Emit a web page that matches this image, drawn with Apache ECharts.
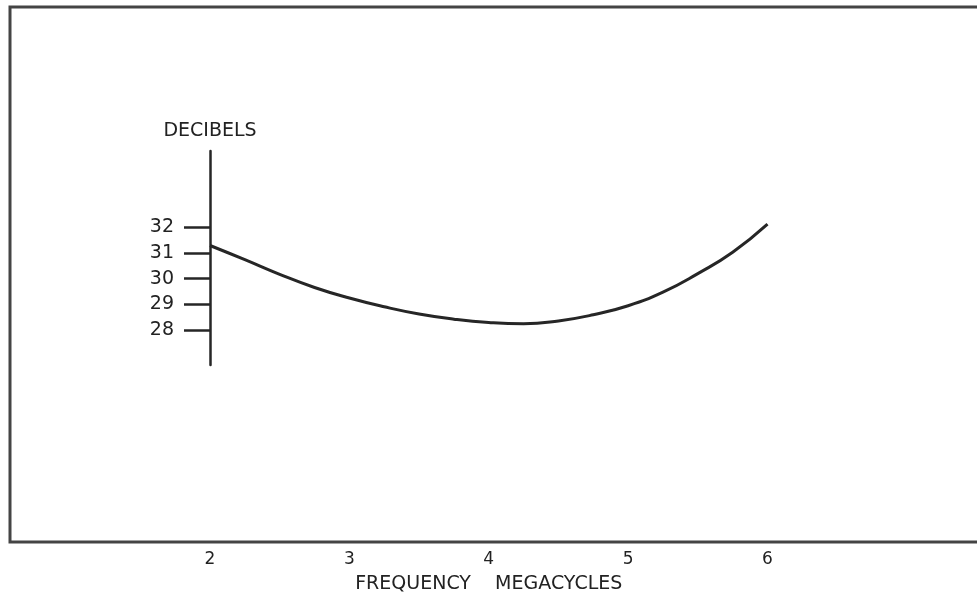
<!DOCTYPE html>
<html>
<head>
<meta charset="utf-8">
<title>Decibels vs frequency</title>
<script src="https://cdn.jsdelivr.net/npm/echarts@6/dist/echarts.min.js"></script>
<style>
  html, body { margin: 0; padding: 0; background: #fff; }
  #chart { width: 977px; height: 602px; }
</style>
</head>
<body>
<div id="chart"></div>
<script>
// 曲线读数 (频率 MHz / 分贝)
const freq = [2.0, 2.25, 2.5, 2.75, 3.0, 3.25, 3.5, 3.75, 4.0, 4.25, 4.5, 4.75, 5.0, 5.25, 5.5, 5.75, 6.0]
const decibels = [31.29, 30.74, 30.17, 29.66, 29.25, 28.91, 28.63, 28.43, 28.3, 28.25, 28.36, 28.6, 28.95, 29.48, 30.2, 31.03, 32.12]
// 纵轴刻度
const dbTicks = [28, 29, 30, 31, 32]

const ink = '#262626'
const textColor = '#222'
const fontFamily = 'DejaVu Sans'

let chart = echarts.init(document.getElementById('chart'))

let option = {
  backgroundColor: '#fff',
  animation: false,
  textStyle: { fontFamily: fontFamily },
  grid: { left: 210, right: 209.5, top: 151, bottom: 237 },
  // 外框 (上、左、下三边)
  graphic: [{
    type: 'polyline',
    shape: { points: [[977, 7], [10, 7], [10, 542], [977, 542]] },
    style: { stroke: '#444', lineWidth: 3, fill: null }
  }],
  xAxis: {
    type: 'value',
    min: 2,
    max: 6,
    interval: 1,
    offset: 180,
    axisLine: { show: false },
    axisTick: { show: false },
    splitLine: { show: false },
    axisLabel: { color: textColor, fontSize: 17, margin: 6 },
    name: 'FREQUENCY    MEGACYCLES',
    nameLocation: 'middle',
    nameGap: 30,
    nameTextStyle: { color: textColor, fontSize: 19 }
  },
  yAxis: {
    type: 'value',
    min: 26.65,
    max: 34.96,
    axisLine: { show: true, lineStyle: { color: ink, width: 2.5 } },
    axisTick: {
      show: true,
      length: 26,
      customValues: dbTicks,
      lineStyle: { color: ink, width: 2.5 }
    },
    splitLine: { show: false },
    axisLabel: { color: textColor, fontSize: 19, margin: 36, customValues: dbTicks },
    name: 'DECIBELS',
    nameLocation: 'end',
    nameGap: 10,
    nameTextStyle: { color: textColor, fontSize: 19 }
  },
  series: [{
    type: 'line',
    data: freq.map((f, i) => [f, decibels[i]]),
    smooth: 0.5,
    showSymbol: false,
    lineStyle: { color: ink, width: 3 }
  }]
}

chart.setOption(option)
</script>
</body>
</html>
